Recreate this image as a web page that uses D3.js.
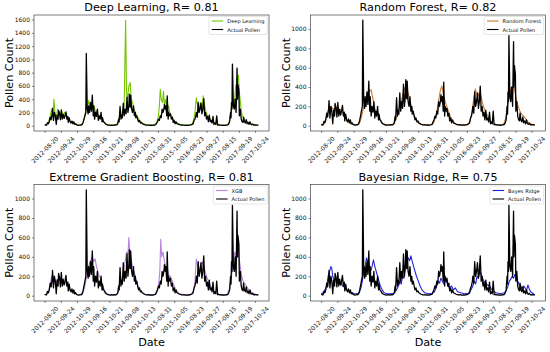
<!DOCTYPE html>
<html lang="en">
<head>
    <meta charset="utf-8">
    <title>Pollen count predictions</title>
    <script src="https://d3js.org/d3.v7.min.js"></script>
    <style>
        body { margin: 0; background: #fff; }
        svg { display: block; font-family: "DejaVu Sans", sans-serif; }
    </style>
</head>
<body>
<div id="chart"></div>
<script>
    // x is the day index inside the pollen seasons, a tick every 35 days
    const tickDates = ["2012-08-20", "2012-09-24", "2012-10-29", "2013-09-16", "2013-10-21", "2014-09-08", "2014-10-13",
        "2015-08-31", "2015-10-05", "2016-08-23", "2016-09-27", "2017-08-15", "2017-09-19", "2017-10-24"];
    const tickStep = 35;

    // [day index, pollen count]
    const actualPollen = [[0,10],[2,12],[4,8],[6,45],[8,30],[10,60],[12,130],[14,90],[16,175],[17,260],[19,80],[21,200],[23,150],[25,20],[27,160],[29,100],[30,230],[32,190],[34,90],[36,240],[38,100],[40,170],[42,110],[44,150],[46,210],[48,100],[50,140],[51,50],[53,120],[55,60],[57,40],[59,70],[61,30],[63,60],[65,20],[67,30],[69,12],[71,10],[73,5],[75,8],[77,12],[79,10],[81,20],[83,50],[85,100],[87,150],[89,200],[90,1090],[92,250],[94,180],[95,300],[97,200],[99,350],[101,220],[103,460],[105,150],[106,300],[108,100],[110,200],[112,140],[114,250],[116,80],[118,150],[120,100],[122,200],[124,60],[125,120],[127,60],[129,50],[131,30],[133,20],[135,15],[137,10],[139,8],[142,5],[145,10],[148,6],[151,12],[154,8],[156,15],[158,30],[160,100],[161,60],[163,290],[165,100],[167,160],[168,120],[170,340],[172,150],[174,250],[176,180],[178,430],[180,200],[182,300],[183,475],[185,280],[186,460],[188,250],[190,200],[192,300],[194,150],[196,200],[197,120],[199,150],[201,100],[203,60],[205,80],[207,40],[209,50],[211,30],[213,25],[216,15],[219,10],[222,8],[225,10],[228,6],[231,8],[234,5],[237,10],[240,15],[242,40],[244,60],[246,100],[248,80],[250,150],[252,120],[254,250],[256,200],[258,260],[259,320],[261,250],[262,300],[264,150],[265,450],[267,100],[268,200],[270,150],[272,180],[274,100],[276,130],[278,50],[280,80],[282,30],[284,60],[286,30],[288,25],[290,20],[292,15],[295,10],[298,8],[301,10],[304,6],[307,8],[310,5],[313,10],[316,12],[319,20],[321,30],[323,80],[325,100],[327,150],[328,200],[330,130],[332,350],[334,200],[336,250],[338,340],[340,180],[342,250],[344,410],[346,150],[348,200],[350,100],[352,140],[354,60],[356,160],[358,60],[360,80],[362,40],[364,140],[366,20],[368,40],[370,20],[372,150],[374,10],[376,15],[378,8],[381,10],[384,6],[387,8],[390,5],[393,10],[396,12],[398,30],[400,60],[402,200],[403,120],[404,350],[405,250],[406,930],[408,300],[410,250],[412,400],[414,200],[416,870],[417,400],[418,620],[420,530],[421,150],[423,250],[425,100],[427,60],[429,50],[430,130],[432,60],[434,40],[436,90],[438,30],[440,50],[442,20],[444,60],[446,20],[448,15],[450,25],[452,10],[455,12],[458,8],[460,10],[462,5]];

    const deepLearning = [[0,10],[4,15],[8,50],[12,150],[15,250],[18,180],[20,400],[22,200],[25,120],[28,250],[31,200],[34,150],[37,220],[40,150],[43,200],[46,170],[49,120],[52,100],[55,60],[58,50],[62,30],[66,20],[70,15],[75,10],[80,15],[84,60],[87,150],[90,300],[92,250],[95,380],[98,300],[101,350],[104,250],[107,300],[110,200],[113,220],[116,150],[119,130],[122,150],[125,80],[128,60],[132,30],[136,15],[142,8],[150,10],[156,20],[160,80],[163,200],[166,150],[169,250],[172,300],[175,1590],[177,500],[179,400],[182,600],[185,650],[187,400],[190,350],[193,250],[196,200],[199,150],[202,120],[205,80],[209,50],[214,30],[220,15],[228,10],[236,10],[242,40],[246,150],[248,300],[250,550],[252,400],[255,350],[257,520],[259,300],[262,400],[265,250],[268,300],[271,180],[274,150],[278,100],[282,60],[287,40],[292,20],[300,10],[310,8],[318,20],[322,80],[325,200],[328,420],[331,300],[334,250],[337,350],[340,250],[343,450],[346,300],[349,200],[352,150],[356,120],[360,80],[364,60],[368,40],[373,20],[380,10],[390,8],[398,30],[401,150],[404,250],[407,400],[410,300],[413,600],[416,650],[419,760],[421,500],[424,300],[427,150],[430,120],[434,80],[438,60],[442,40],[448,25],[455,15],[462,10]];

    const randomForest = [[0,5],[3,8],[6,20],[9,60],[12,110],[15,150],[18,190],[21,200],[24,180],[27,170],[30,180],[33,190],[36,180],[39,170],[42,160],[45,150],[48,120],[51,100],[54,70],[57,50],[60,35],[63,25],[66,20],[69,15],[72,12],[75,10],[78,10],[81,15],[84,40],[87,90],[90,150],[93,220],[96,280],[99,320],[102,340],[105,360],[108,370],[111,300],[114,220],[117,160],[120,130],[123,110],[126,80],[129,50],[132,30],[135,20],[138,15],[141,10],[147,8],[153,10],[156,12],[159,30],[162,80],[165,120],[168,170],[171,220],[174,270],[177,330],[180,380],[183,410],[186,370],[189,320],[192,260],[195,200],[198,150],[201,110],[204,80],[207,50],[210,30],[213,20],[216,15],[219,10],[225,8],[234,8],[237,10],[240,15],[243,30],[246,70],[249,120],[252,200],[255,290],[258,370],[261,410],[264,340],[267,270],[270,220],[273,180],[276,140],[279,100],[282,70],[285,50],[288,30],[291,20],[294,15],[297,10],[303,8],[309,8],[312,10],[315,12],[318,20],[321,40],[324,90],[327,180],[330,280],[333,380],[336,330],[339,300],[342,340],[345,320],[348,250],[351,200],[354,160],[357,130],[360,100],[363,80],[366,50],[369,30],[372,20],[375,15],[378,10],[384,8],[390,10],[393,15],[396,30],[399,80],[402,160],[405,260],[408,340],[411,400],[414,380],[417,400],[420,330],[423,250],[426,200],[429,160],[432,130],[435,110],[438,100],[441,80],[444,60],[447,40],[450,30],[453,20],[456,15],[459,10],[462,8]];

    const xgBoost = [[0,10],[5,20],[9,60],[12,120],[15,200],[18,150],[21,180],[24,120],[27,170],[30,150],[33,180],[36,130],[39,150],[42,120],[45,140],[48,100],[51,90],[54,60],[58,40],[62,25],[66,20],[72,10],[78,10],[82,20],[86,80],[89,150],[92,250],[95,300],[98,350],[101,380],[103,400],[106,350],[109,380],[112,300],[115,250],[118,200],[121,180],[124,120],[127,80],[131,40],[135,20],[140,10],[150,8],[156,15],[160,50],[164,120],[168,200],[171,280],[174,350],[177,450],[180,420],[182,600],[184,450],[187,380],[190,300],[193,250],[196,200],[199,150],[202,100],[206,60],[210,30],[216,15],[225,8],[236,8],[242,30],[246,100],[249,250],[251,580],[253,400],[256,450],[259,350],[262,300],[265,280],[268,220],[272,200],[276,150],[280,100],[285,50],[290,25],[300,10],[312,8],[318,20],[322,60],[325,150],[328,380],[331,300],[334,250],[338,320],[341,350],[344,300],[347,250],[350,200],[354,150],[358,100],[363,60],[368,30],[374,15],[385,8],[395,15],[400,80],[404,200],[408,350],[411,450],[414,400],[417,500],[420,400],[423,300],[426,200],[429,150],[432,130],[436,100],[440,70],[445,40],[450,25],[456,15],[462,10]];

    const bayesRidge = [[0,20],[4,30],[8,60],[12,100],[15,200],[18,250],[21,300],[23,280],[25,200],[28,150],[31,180],[34,130],[37,150],[40,120],[43,140],[46,100],[50,90],[54,60],[58,50],[62,40],[66,30],[72,20],[78,20],[82,30],[86,80],[89,150],[92,250],[95,300],[98,390],[101,350],[104,300],[107,250],[110,300],[113,370],[116,300],[119,250],[122,200],[125,150],[128,100],[132,60],[136,30],[142,20],[150,20],[158,25],[163,60],[167,100],[170,150],[173,120],[176,200],[179,180],[182,300],[185,350],[188,390],[191,360],[194,410],[197,350],[200,300],[203,250],[206,200],[210,150],[214,100],[218,60],[224,30],[232,20],[240,25],[245,40],[250,100],[253,150],[256,130],[259,180],[262,150],[265,120],[268,170],[271,150],[274,100],[278,80],[282,100],[286,60],[290,80],[295,40],[302,30],[310,20],[318,25],[324,60],[328,100],[331,150],[334,120],[337,200],[340,180],[343,250],[346,220],[349,180],[352,150],[356,130],[360,110],[364,100],[368,70],[372,50],[378,30],[388,20],[396,30],[400,50],[404,100],[407,150],[410,170],[413,200],[416,180],[419,220],[422,200],[425,150],[428,120],[432,100],[435,60],[438,100],[441,80],[444,50],[447,110],[450,70],[453,40],[456,30],[460,15],[462,10]];

    const panels = [
        {title: "Deep Learning, R= 0.81", label: "Deep Learning", pred: deepLearning, color: "#74c400"},
        {title: "Random Forest, R= 0.82", label: "Random Forest", pred: randomForest, color: "#c97a34"},
        {title: "Extreme Gradient Boosting, R= 0.81", label: "XGB", pred: xgBoost, color: "#b884e0"},
        {title: "Bayesian Ridge, R= 0.75", label: "Bayes Ridge", pred: bayesRidge, color: "#2222dd"}
    ];

    const width = 550, height = 352;
    const boxes = [
        {x0: 34, x1: 269, y0: 15, y1: 131},
        {x0: 310.5, x1: 545.5, y0: 15, y1: 131},
        {x0: 34, x1: 269, y0: 184.5, y1: 301},
        {x0: 310.5, x1: 545.5, y0: 184.5, y1: 301}
    ];
    const labelSize = 11.2, tickSize = 6, legendSize = 5.1;

    const svg = d3.select("#chart").append("svg")
        .attr("width", width)
        .attr("height", height);

    const lastDay = d3.max(actualPollen, d => d[0]);

    panels.forEach((p, k) => {
        const b = boxes[k];
        const g = svg.append("g");

        // matplotlib style 5% margins
        const x = d3.scaleLinear()
            .domain([-0.05 * lastDay, lastDay * 1.05])
            .range([b.x0, b.x1]);
        const top = Math.max(d3.max(actualPollen, d => d[1]), d3.max(p.pred, d => d[1]));
        const y = d3.scaleLinear()
            .domain([-0.05 * top, top * 1.05])
            .range([b.y1, b.y0]);

        const line = d3.line()
            .x(d => x(d[0]))
            .y(d => y(d[1]));

        g.append("path")
            .attr("d", line(p.pred))
            .attr("fill", "none")
            .attr("stroke", p.color)
            .attr("stroke-width", 1.1)
            .attr("stroke-linejoin", "round");

        g.append("path")
            .attr("d", line(actualPollen))
            .attr("fill", "none")
            .attr("stroke", "#000")
            .attr("stroke-width", 1.3)
            .attr("stroke-linejoin", "round");

        // y axis
        const yAxis = d3.axisLeft(y)
            .tickValues(d3.range(0, y.domain()[1], 200))
            .tickSize(2)
            .tickPadding(2)
            .tickFormat(d3.format("d"));
        g.append("g")
            .attr("transform", `translate(${b.x0},0)`)
            .call(yAxis)
            .call(a => a.select(".domain").remove())
            .call(a => a.selectAll("line").attr("stroke", "#333").attr("stroke-width", 0.6))
            .call(a => a.selectAll("text").attr("font-size", tickSize).attr("fill", "#111")
                .attr("font-family", "DejaVu Sans"));

        // x axis with rotated date labels
        const xTicks = tickDates.map((t, i) => i * tickStep);
        const xAxis = d3.axisBottom(x)
            .tickValues(xTicks)
            .tickSize(2)
            .tickFormat("");
        g.append("g")
            .attr("transform", `translate(0,${b.y1})`)
            .call(xAxis)
            .call(a => a.select(".domain").remove())
            .call(a => a.selectAll("line").attr("stroke", "#333").attr("stroke-width", 0.6));

        g.append("g").selectAll("text")
            .data(tickDates)
            .join("text")
            .attr("transform", (d, i) => `translate(${x(xTicks[i])},${b.y1 + 18.5}) rotate(-45)`)
            .attr("text-anchor", "middle")
            .attr("dominant-baseline", "central")
            .attr("font-size", tickSize)
            .attr("fill", "#111")
            .text(d => d);

        // frame
        g.append("rect")
            .attr("x", b.x0).attr("y", b.y0)
            .attr("width", b.x1 - b.x0).attr("height", b.y1 - b.y0)
            .attr("fill", "none")
            .attr("stroke", "#444")
            .attr("stroke-width", 0.7);

        // title
        g.append("text")
            .attr("x", (b.x0 + b.x1) / 2)
            .attr("y", b.y0 - 3.8)
            .attr("text-anchor", "middle")
            .attr("font-size", labelSize)
            .attr("fill", "#000")
            .text(p.title);

        // y label
        g.append("text")
            .attr("transform", `translate(${b.x0 - 21},${(b.y0 + b.y1) / 2}) rotate(-90)`)
            .attr("text-anchor", "middle")
            .attr("font-size", labelSize)
            .attr("fill", "#000")
            .text("Pollen Count");

        if (k >= 2) {
            g.append("text")
                .attr("x", (b.x0 + b.x1) / 2)
                .attr("y", 346)
                .attr("text-anchor", "middle")
                .attr("font-size", labelSize)
                .attr("fill", "#000")
                .text("Date");
        }

        // legend, upper right
        const items = [{label: p.label, color: p.color}, {label: "Actual Pollen", color: "#000"}];
        const lg = g.append("g");
        const box = lg.append("rect");
        const texts = lg.selectAll("text")
            .data(items)
            .join("text")
            .attr("font-size", legendSize)
            .attr("fill", "#111")
            .attr("dominant-baseline", "central")
            .text(d => d.label);
        let tw = 0;
        texts.each(function() { tw = Math.max(tw, this.getComputedTextLength()); });
        const pad = 2.8, handle = 11.5, gap = 4, rowH = 8.5;
        const bw = pad * 2 + handle + gap + tw;
        const bx = b.x1 - 1.8 - bw, by = b.y0 + 1.5;
        box.attr("x", bx).attr("y", by)
            .attr("width", bw).attr("height", rowH * 2 + 1)
            .attr("rx", 1.2)
            .attr("fill", "#fff").attr("fill-opacity", 0.8)
            .attr("stroke", "#ccc").attr("stroke-width", 0.5);
        texts.attr("x", bx + pad + handle + gap)
            .attr("y", (d, i) => by + 4.5 + i * rowH);
        lg.selectAll("line")
            .data(items)
            .join("line")
            .attr("x1", bx + pad).attr("x2", bx + pad + handle)
            .attr("y1", (d, i) => by + 4.5 + i * rowH)
            .attr("y2", (d, i) => by + 4.5 + i * rowH)
            .attr("stroke", d => d.color)
            .attr("stroke-width", 1.1);
    });
</script>
</body>
</html>
